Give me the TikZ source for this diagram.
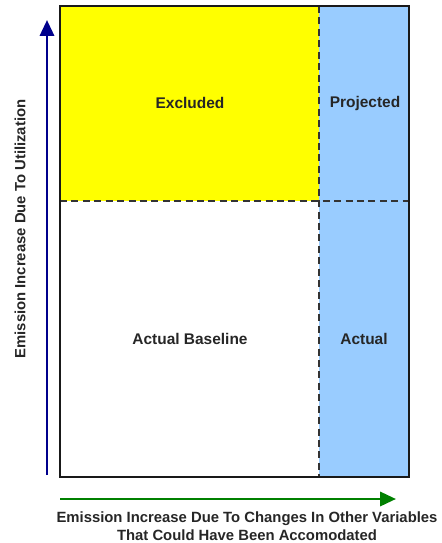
\documentclass[tikz,border=0pt]{standalone}
\usepackage{fontspec}
\setmainfont{Liberation Sans}
\usepackage{xcolor}
\usetikzlibrary{positioning, calc, arrows.meta}
\definecolor{boxyellow}{RGB}{255, 255, 0}
\definecolor{boxblue}{RGB}{153, 204, 255}
\definecolor{axisblue}{RGB}{0, 0, 140}
\definecolor{axisgreen}{RGB}{0, 128, 0}
\tikzset{
    celllabel/.style={
        font=\fontsize{8.8}{10.5}\selectfont\bfseries, text=black!85
    },
    axislabel/.style={
        font=\fontsize{8.45}{10.2}\selectfont\bfseries, text=black!85, align=center
    },
    divider/.style={
        dashed, thick, black!80, dash pattern=on 4pt off 2.5pt
    },
    axisarrow/.style={
        line width=1.6pt, -{Triangle[length=9pt, width=8pt]}
    }
}

\begin{document}
\begin{tikzpicture}[x=0.02cm, y=-0.02cm]
    \useasboundingbox (0,0) rectangle (441,543);

    % --- KHUNG ---
    \coordinate (tl) at (60,6);
    \coordinate (br) at (409,477);
    \coordinate (splitx) at (319,6);
    \coordinate (splitxb) at (319,477);
    \coordinate (splity) at (60,201);
    \coordinate (splityr) at (409,201);

    % Vùng màu
    \fill[boxyellow] (tl) rectangle (319,201);
    \fill[boxblue] (splitx) rectangle (br);

    % Đường chia (nét đứt)
    \draw[divider] (splitx) -- (splitxb);
    \draw[divider] (splity) -- (splityr);

    % Viền ngoài
    \draw[line width=1.4pt, black!90] (tl) rectangle (br);

    % --- NHÃN Ô ---
    \node[celllabel] (excl) at (190,103) {Excluded};
    \node[celllabel] (proj) at (365,104) {Projected};
    \node[celllabel] (base) at (190,339) {Actual Baseline};
    \node[celllabel] (act) at (364,339) {Actual};

    % --- TRỤC ---
    \coordinate (ybot) at (47,475);
    \coordinate (ytop) at (47,20);
    \draw[axisarrow, axisblue] (ybot) -- (ytop);
    \node[axislabel, rotate=90] (ylab) at (20,229) {Emission Increase Due To Utilization};

    \coordinate (xleft) at (60,499);
    \coordinate (xright) at (396,499);
    \draw[axisarrow, axisgreen] (xleft) -- (xright);
    \node[axislabel] (xlab) at (247,526) {Emission Increase Due To Changes In Other Variables\\That Could Have Been Accomodated};

\end{tikzpicture}
\end{document}
